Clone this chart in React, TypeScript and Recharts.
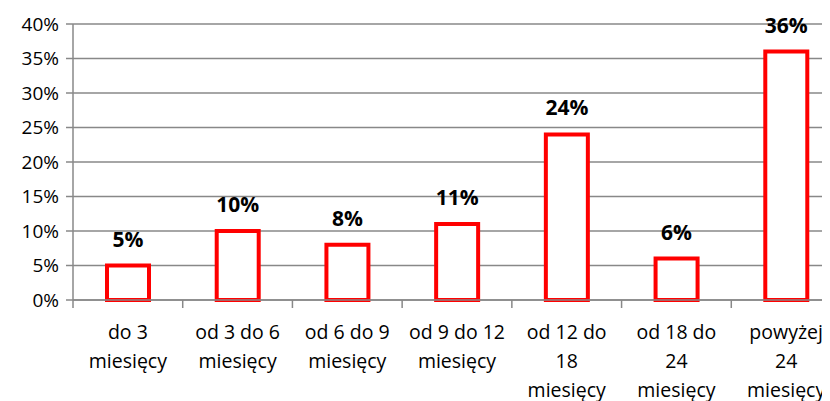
import { BarChart, Bar, XAxis, YAxis, CartesianGrid, LabelList } from 'recharts';

const categories = [
  'do 3\nmiesięcy',
  'od 3 do 6\nmiesięcy',
  'od 6 do 9\nmiesięcy',
  'od 9 do 12\nmiesięcy',
  'od 12 do\n18\nmiesięcy',
  'od 18 do\n24\nmiesięcy',
  'powyżej\n24\nmiesięcy',
];
const shares = [5, 10, 8, 11, 24, 6, 36];
const yTicks = [0, 5, 10, 15, 20, 25, 30, 35, 40];

const data = categories.map((name, i) => ({ name, value: shares[i] }));

const FONT = 'Open Sans, Noto Sans, sans-serif';
const GRID = '#888888';
const PLOT_WIDTH = 768;

function CategoryTick(props: any) {
  const { x, y, payload, index } = props;
  const half = PLOT_WIDTH / categories.length / 2;
  const lines = String(payload.value).split('\n');
  return (
    <g>
      <line x1={x - half} x2={x - half} y1={y} y2={y + 8} stroke={GRID} strokeWidth={1.5} />
      {index === categories.length - 1 && (
        <line x1={x + half} x2={x + half} y1={y} y2={y + 8} stroke={GRID} strokeWidth={1.5} />
      )}
      <text x={x} y={y} textAnchor="middle" fontSize={19.5} fill="#000" fontFamily={FONT}>
        {lines.map((l, i) => (
          <tspan key={i} x={x} y={y + 39 + i * 29}>{l}</tspan>
        ))}
      </text>
    </g>
  );
}

export default function App() {
  return (
    <div style={{ width: 822, height: 393, overflow: 'hidden' }}>
      <BarChart
        width={850}
        height={393}
        data={data}
        margin={{ top: 16, right: 17, left: 0, bottom: 0 }}
        barCategoryGap={0}
      >
        <CartesianGrid vertical={false} stroke={GRID} strokeWidth={1.5} />
        <XAxis
          dataKey="name"
          height={101}
          interval={0}
          axisLine={{ stroke: GRID, strokeWidth: 1.5 }}
          tickLine={false}
          tickSize={0}
          tickMargin={0}
          tick={<CategoryTick />}
        />
        <YAxis
          width={65}
          domain={[0, 40]}
          ticks={yTicks}
          interval={0}
          tickFormatter={(v: number) => `${v}%`}
          axisLine={{ stroke: GRID, strokeWidth: 1.5 }}
          tickLine={{ stroke: GRID, strokeWidth: 1.5 }}
          tickSize={7}
          tickMargin={7}
          tick={{ fontSize: 19, fill: '#000', fontFamily: FONT }}
        />
        <Bar
          dataKey="value"
          barSize={42}
          fill="#fff"
          stroke="#ff0000"
          strokeWidth={4}
          isAnimationActive={false}
        >
          <LabelList
            dataKey="value"
            position="top"
            offset={19}
            formatter={(v: any) => `${v}%`}
            style={{ fontSize: 21, fontWeight: 700, fill: '#000', fontFamily: FONT }}
          />
        </Bar>
      </BarChart>
    </div>
  );
}
